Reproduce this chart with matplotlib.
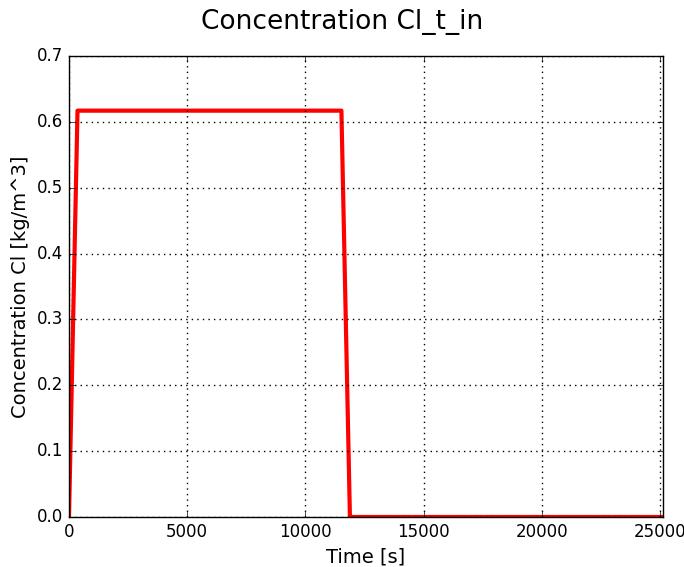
import matplotlib
matplotlib.use("Agg")
import matplotlib.pyplot as plt

plt.style.use("classic")

time_s = [0, 360, 11520, 11880, 25120]
conc = [0.0, 0.617, 0.617, 0.0, 0.0]

fig = plt.figure(figsize=(6.84, 5.67), dpi=100, facecolor="white")
ax = fig.add_axes([69/684, 1-517/567, (663-69)/684, (517-56)/567])
ax.plot(time_s, conc, color="red", linewidth=3)
ax.set_xlim(0, 25120)
ax.set_ylim(0, 0.7)
ax.grid(True, color="black", linestyle=":", linewidth=1)
ax.set_xlabel("Time [s]", fontsize=14)
ax.set_ylabel("Concentration Cl [kg/m^3]", fontsize=14)
ax.tick_params(labelsize=12)
fig.suptitle("Concentration Cl_t_in", fontsize=19, y=0.985)
fig.savefig("out.png", dpi=100, facecolor="white")
